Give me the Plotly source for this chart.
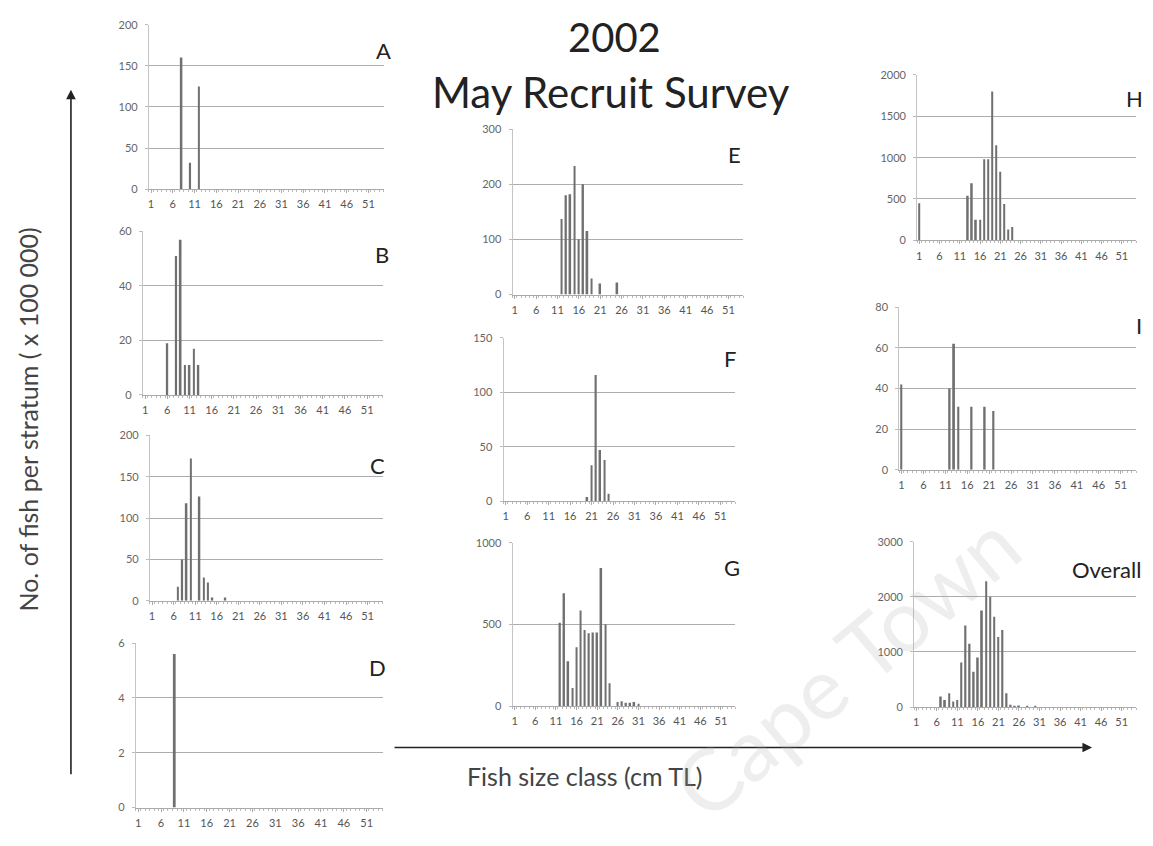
import plotly.graph_objects as go

W, H = 1153, 846

size_ticks = [1, 6, 11, 16, 21, 26, 31, 36, 41, 46, 51]

a_cls = [8, 10, 12]
a_val = [160, 32, 125]
b_cls = [6, 8, 9, 10, 11, 12, 13]
b_val = [19, 51, 57, 11, 11, 17, 11]
c_cls = [7, 8, 9, 10, 12, 13, 14, 15, 18]
c_val = [17, 50, 118, 172, 126, 28, 22, 4, 4]
d_cls = [9]
d_val = [5.6]
e_cls = [12, 13, 14, 15, 16, 17, 18, 19, 21, 25]
e_val = [137, 180, 182, 233, 100, 200, 115, 29, 20, 22]
f_cls = [20, 21, 22, 23, 24, 25]
f_val = [4, 33, 116, 47, 38, 7]
g_cls = [12, 13, 14, 15, 16, 17, 18, 19, 20, 21, 22, 23, 24, 26, 27, 28, 29, 30, 31]
g_val = [510, 690, 275, 110, 360, 585, 465, 445, 450, 450, 845, 500, 140, 25, 30, 20, 20, 25, 15]
h_cls = [1, 13, 14, 15, 16, 17, 18, 19, 20, 21, 22, 23, 24]
h_val = [450, 540, 690, 250, 250, 980, 980, 1800, 1150, 830, 440, 130, 160]
i_cls = [1, 12, 13, 14, 17, 20, 22]
i_val = [42, 40, 62, 31, 31, 31, 29]
o_cls = [7, 8, 9, 10, 11, 12, 13, 14, 15, 16, 17, 18, 19, 20, 21, 22, 23, 24, 25, 26, 28, 30]
o_val = [190, 130, 250, 100, 130, 810, 1480, 1150, 640, 900, 1750, 2280, 2000, 1640, 1270,
         1400, 250, 40, 20, 30, 20, 20]

panel_names = ["A", "B", "C", "D", "E", "F", "G", "H", "I", "Overall"]
panel_cls = [a_cls, b_cls, c_cls, d_cls, e_cls, f_cls, g_cls, h_cls, i_cls, o_cls]
panel_val = [a_val, b_val, c_val, d_val, e_val, f_val, g_val, h_val, i_val, o_val]
panel_ymax = [200, 60, 200, 6, 300, 150, 1000, 2000, 80, 3000]
panel_dtick = [50, 20, 50, 2, 100, 50, 500, 500, 20, 1000]

# layout boxes in pixels: x0, x1, ytop, ybottom
boxes = [
    (148, 383, 18, 185),
    (142, 382, 228, 394),
    (149, 382, 435, 603),
    (135, 382, 646, 813),
    (512, 743, 124, 292),
    (503, 735, 336, 502),
    (512, 735, 544, 710),
    (917, 1136, 69, 237),
    (899, 1136, 305, 470),
    (914, 1136, 543, 711),
]
# panel-letter positions: right edge, vertical centre (pixels)
label_pos = [
    (392, 44), (390, 251), (386, 466), (387, 671),
    (743, 150), (738, 357), (742, 569),
    (1145, 93), (1144, 323), (1143, 571),
]

FONT = "Lato"

fig = go.Figure()
layout_axes = {}
annotations = []
for k in range(10):
    n = "" if k == 0 else str(k + 1)
    x0, x1, yt, yb = boxes[k]
    fig.add_trace(go.Bar(
        x=panel_cls[k], y=panel_val[k], xaxis="x" + n, yaxis="y" + n,
        width=0.4, marker=dict(color="#707070", line=dict(width=0)),
        showlegend=False, hoverinfo="x+y"))
    layout_axes["xaxis" + n] = dict(
        domain=[x0 / W, x1 / W], anchor="y" + n, range=[0.5, 54.5],
        tickvals=size_ticks, ticktext=[str(t) for t in size_ticks],
        tickfont=dict(size=11, color="#555", family=FONT), ticklabelstandoff=2,
        showgrid=False, zeroline=False, showline=True, linecolor="#aaa", linewidth=1,
        ticks="outside", ticklen=3, tickcolor="#aaa",
        minor=dict(dtick=1, tick0=0.5, ticks="outside", ticklen=2, tickcolor="#bbb"),
        fixedrange=True)
    layout_axes["yaxis" + n] = dict(
        domain=[1 - yb / H, 1 - yt / H], anchor="x" + n,
        range=[0, panel_ymax[k]], dtick=panel_dtick[k],
        tickfont=dict(size=11, color="#666", family=FONT), ticklabelstandoff=5,
        showgrid=True, gridcolor="#adadad", gridwidth=1,
        zeroline=False, showline=True, linecolor="#c4c4c4", linewidth=1,
        ticks="outside", ticklen=3, tickcolor="#bbb", fixedrange=True)
    lx, ly = label_pos[k]
    annotations.append(dict(
        text=panel_names[k], x=lx / W, y=1 - ly / H, xref="paper", yref="paper",
        xanchor="right", yanchor="middle", showarrow=False,
        font=dict(size=22, color="#222", family=FONT)))

annotations += [
    dict(text="2002", x=614 / W, y=1 - 30 / H, xref="paper", yref="paper",
         xanchor="center", yanchor="middle", showarrow=False,
         font=dict(size=40, color="#222", family=FONT)),
    dict(text="May Recruit Survey", x=611 / W, y=1 - 86 / H, xref="paper", yref="paper",
         xanchor="center", yanchor="middle", showarrow=False,
         font=dict(size=42, color="#222", family=FONT)),
    dict(text="No. of fish per stratum ( x 100 000)", x=27 / W, y=1 - 419 / H,
         xref="paper", yref="paper", xanchor="center", yanchor="middle",
         textangle=-90, showarrow=False,
         font=dict(size=25, color="#444", family=FONT)),
    dict(text="Fish size class (cm TL)", x=584 / W, y=1 - 781 / H,
         xref="paper", yref="paper", xanchor="center", yanchor="middle", showarrow=False,
         font=dict(size=25, color="#444", family=FONT)),
    # arrows (tails given as pixel offsets from tips)
    dict(text="", x=70 / W, y=1 - 84 / H, ax=0, ay=686,
         xref="paper", yref="paper", axref="pixel", ayref="pixel",
         showarrow=True, arrowhead=2, arrowsize=1.2, arrowwidth=1.6, arrowcolor="#222"),
    dict(text="", x=1092 / W, y=1 - 752 / H, ax=-699, ay=0,
         xref="paper", yref="paper", axref="pixel", ayref="pixel",
         showarrow=True, arrowhead=2, arrowsize=1.2, arrowwidth=1.6, arrowcolor="#222"),
    # faint watermark
    dict(text="Cape Town", x=845 / W, y=1 - 668 / H, xref="paper", yref="paper",
         xanchor="center", yanchor="middle", textangle=-40, showarrow=False,
         font=dict(size=86, color="rgba(170,170,170,0.2)", family=FONT)),
]

fig.update_layout(
    width=W, height=H, margin=dict(l=0, r=0, t=0, b=0),
    paper_bgcolor="white", plot_bgcolor="white",
    bargap=0.6, annotations=annotations, **layout_axes)

fig.write_html("out.html", config={"displayModeBar": False},
               post_script="document.body.style.margin='0px';")
